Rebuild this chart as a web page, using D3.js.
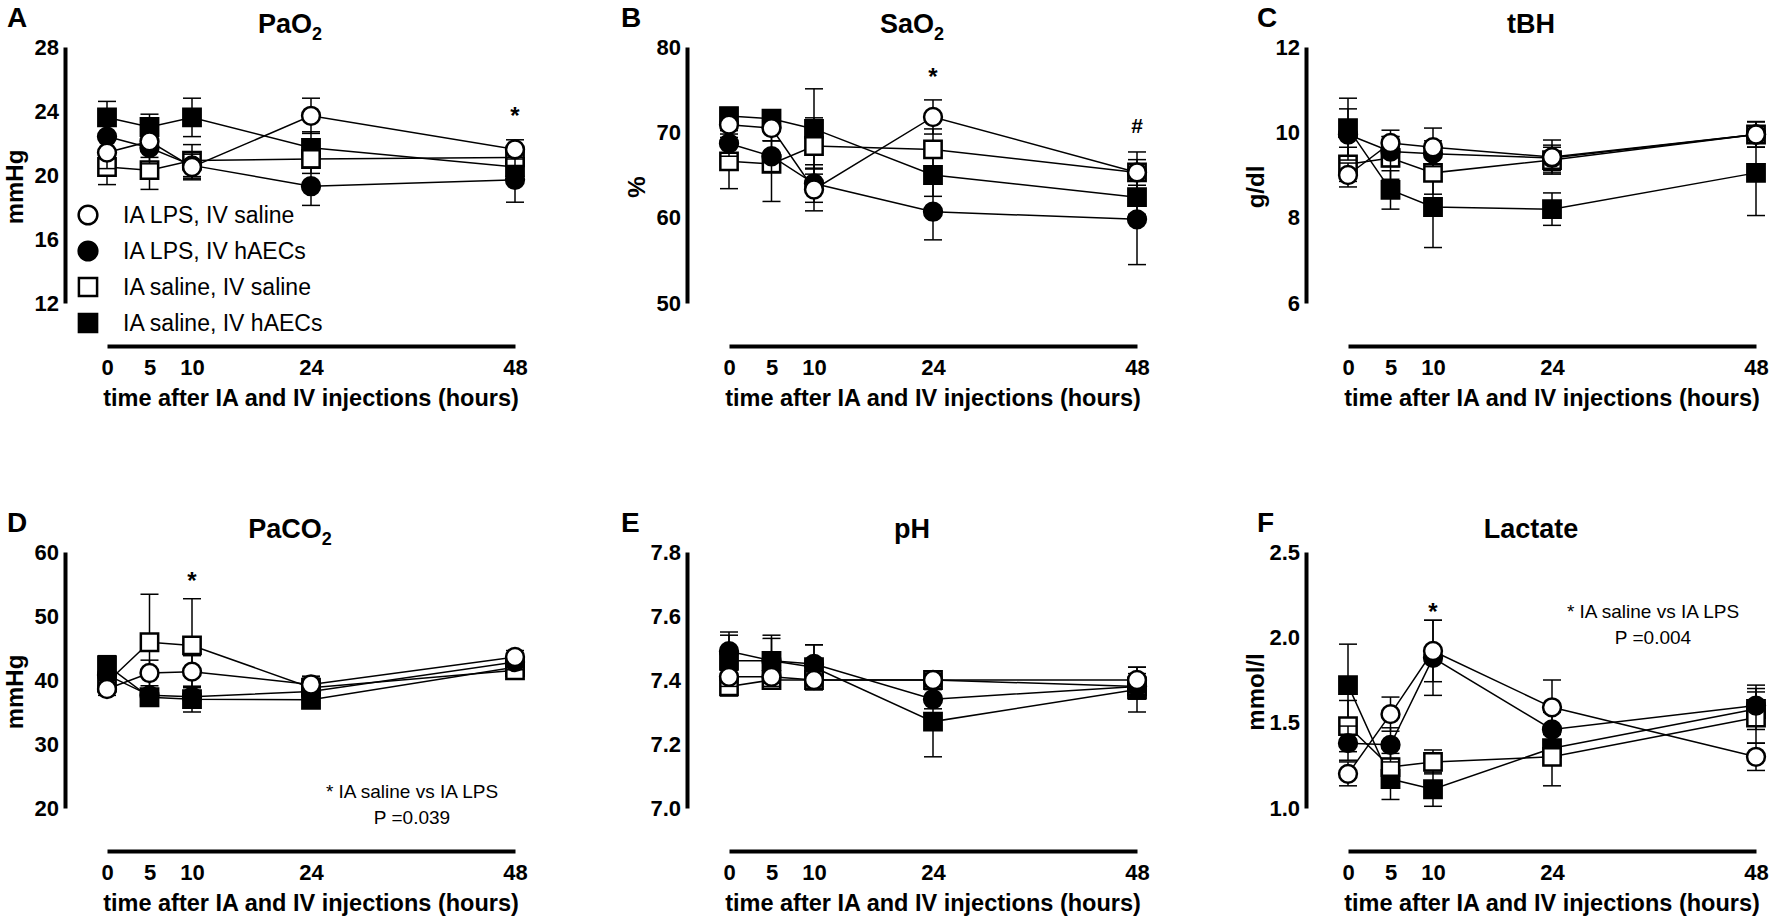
<!DOCTYPE html>
<html>
<head>
<meta charset="utf-8">
<script src="https://cdn.jsdelivr.net/npm/d3@7"></script>
<style>
body { margin: 0; background: #fff; }
svg { display: block; font-family: "Liberation Sans", Arial, Helvetica, sans-serif; }
</style>
</head>
<body>
<div id="chart"></div>
<script>
// time points (hours) and groups
const hours = [0, 5, 10, 24, 48]
const groups = ["IA LPS, IV saline", "IA LPS, IV hAECs", "IA saline, IV saline", "IA saline, IV hAECs"]

// one row per group, values at 0, 5, 10, 24, 48 h
const pao2Mean = [[21.4, 22.1, 20.5, 23.7, 21.6], [22.4, 21.7, 20.6, 19.3, 19.7], [20.5, 20.3, 20.9, 21.0, 21.1], [23.6, 23.0, 23.6, 21.7, 20.5]]
const pao2Sem = [[1.0, 1.0, 0.8, 1.1, 0.6], [0.9, 1.0, 0.8, 1.2, 1.4], [1.1, 1.2, 1.0, 0.9, 0.7], [1.0, 0.8, 1.2, 1.0, 0.9]]
const pao2Ticks = [12, 16, 20, 24, 28]

const sao2Mean = [[70.9, 70.5, 63.3, 71.8, 65.3], [68.7, 67.2, 64.0, 60.7, 59.8], [66.6, 66.3, 68.4, 68.0, 65.3], [71.9, 71.6, 70.4, 65.0, 62.4]]
const sao2Sem = [[1.5, 1.5, 2.5, 2.0, 2.4], [1.5, 1.8, 2.2, 3.3, 5.3], [3.2, 4.4, 3.3, 2.4, 1.5], [1.0, 1.0, 4.7, 2.5, 2.0]]
const sao2Ticks = [50, 60, 70, 80]

const tbhMean = [[9.0, 9.75, 9.65, 9.42, 9.95], [9.95, 9.55, 9.5, 9.4, 9.95], [9.25, 9.4, 9.05, 9.35, 9.95], [10.1, 8.65, 8.25, 8.2, 9.05]]
const tbhSem = [[0.28, 0.3, 0.45, 0.4, 0.3], [0.6, 0.35, 0.3, 0.3, 0.3], [0.4, 0.5, 0.5, 0.3, 0.3], [0.7, 0.45, 0.95, 0.38, 1.0]]
const tbhTicks = [6, 8, 10, 12]

const paco2Mean = [[38.6, 41.1, 41.3, 39.3, 43.6], [40.8, 37.6, 37.4, 38.2, 42.8], [39.6, 45.9, 45.4, 38.8, 41.5], [42.3, 37.3, 37.0, 36.9, 42.0]]
const paco2Sem = [[1.0, 2.0, 2.5, 1.2, 1.0], [1.5, 1.0, 1.6, 1.5, 1.2], [1.2, 7.5, 7.3, 1.8, 1.0], [1.5, 1.0, 2.0, 1.2, 0.8]]
const paco2Ticks = [20, 30, 40, 50, 60]

const phMean = [[7.41, 7.41, 7.40, 7.40, 7.40], [7.49, 7.46, 7.45, 7.34, 7.38], [7.38, 7.40, 7.40, 7.40, 7.38], [7.46, 7.46, 7.44, 7.27, 7.37]]
const phSem = [[0.03, 0.03, 0.03, 0.02, 0.04], [0.06, 0.07, 0.06, 0.03, 0.04], [0.03, 0.02, 0.03, 0.02, 0.03], [0.08, 0.08, 0.07, 0.11, 0.07]]
const phTicks = [7.0, 7.2, 7.4, 7.6, 7.8]

const lactateMean = [[1.20, 1.55, 1.92, 1.59, 1.30], [1.38, 1.37, 1.88, 1.46, 1.60], [1.48, 1.24, 1.27, 1.30, 1.53], [1.72, 1.17, 1.11, 1.35, 1.58]]
const lactateSem = [[0.07, 0.10, 0.18, 0.16, 0.08], [0.10, 0.10, 0.22, 0.10, 0.12], [0.15, 0.08, 0.07, 0.17, 0.15], [0.24, 0.12, 0.10, 0.10, 0.12]]
const lactateTicks = [1.0, 1.5, 2.0, 2.5]

// significance marks: panel, hour, value at mark centre
const marks = [
  { panel: "A", h: 48, v: 24.0, s: "*" },
  { panel: "B", h: 24, v: 77.1, s: "*" },
  { panel: "B", h: 48, v: 70.8, s: "#" },
  { panel: "D", h: 10, v: 56.3, s: "*" },
  { panel: "F", h: 10, v: 2.18, s: "*" }
]
const noteD = ["* IA saline vs IA LPS", "P =0.039"]
const noteF = ["* IA saline vs IA LPS", "P =0.004"]

const panels = [
  { letter: "A", title: "PaO", sub: "2", unit: "mmHg", mean: pao2Mean, sem: pao2Sem, ticks: pao2Ticks, fmt: d3.format("d") },
  { letter: "B", title: "SaO", sub: "2", unit: "%", mean: sao2Mean, sem: sao2Sem, ticks: sao2Ticks, fmt: d3.format("d") },
  { letter: "C", title: "tBH", sub: "", unit: "g/dl", mean: tbhMean, sem: tbhSem, ticks: tbhTicks, fmt: d3.format("d") },
  { letter: "D", title: "PaCO", sub: "2", unit: "mmHg", mean: paco2Mean, sem: paco2Sem, ticks: paco2Ticks, fmt: d3.format("d"), note: noteD, noteY: 246 },
  { letter: "E", title: "pH", sub: "", unit: "", mean: phMean, sem: phSem, ticks: phTicks, fmt: d3.format(".1f") },
  { letter: "F", title: "Lactate", sub: "", unit: "mmol/l", mean: lactateMean, sem: lactateSem, ticks: lactateTicks, fmt: d3.format(".1f"), note: noteF, noteY: 66 }
]

// styles
const symbols = [d3.symbolCircle, d3.symbolCircle, d3.symbolSquare, d3.symbolSquare]
const symbolSize = [250, 250, 300, 300]
const fills = ["#fff", "#000", "#fff", "#000"]
const drawOrder = [3, 2, 1, 0]

const W = 1772, H = 921
const colX = [65, 687, 1306]
const letterX = [7, 621, 1257]
const rowY = [47, 552]
const gap = 42, plotW = 408, plotH = 256

const svg = d3.select("#chart").append("svg")
  .attr("width", W)
  .attr("height", H)

panels.forEach(function(p, i) {
  const col = i % 3
  const ax = colX[col]
  const top = rowY[Math.floor(i / 3)]

  const x = d3.scaleLinear().domain([0, 48]).range([ax + gap, ax + gap + plotW])
  const y = d3.scaleLinear().domain(d3.extent(p.ticks)).range([top + plotH, top])

  const g = svg.append("g")

  g.append("text")
    .attr("x", letterX[col])
    .attr("y", top - 20)
    .attr("font-size", 28)
    .attr("font-weight", "bold")
    .text(p.letter)

  const title = g.append("text")
    .attr("x", ax + (gap + plotW) / 2)
    .attr("y", top - 14)
    .attr("text-anchor", "middle")
    .attr("font-size", 27)
    .attr("font-weight", "bold")
  title.append("tspan").text(p.title)
  if (p.sub) title.append("tspan").attr("font-size", 18).attr("dy", 7).text(p.sub)

  // y axis
  const ya = g.append("g")
    .attr("transform", "translate(" + ax + ",0)")
    .call(d3.axisLeft(y).tickValues(p.ticks).tickSize(0).tickSizeOuter(0).tickPadding(6).tickFormat(p.fmt))
  ya.attr("font-family", null)
  ya.select(".domain").attr("stroke", "#000").attr("stroke-width", 4)
  ya.selectAll("text")
    .attr("font-size", 22)
    .attr("font-weight", "bold")
    .attr("fill", "#000")

  if (p.unit) {
    g.append("text")
      .attr("transform", "translate(" + (ax - 42) + "," + (top + 140) + ") rotate(-90)")
      .attr("text-anchor", "middle")
      .attr("font-size", 24)
      .attr("font-weight", "bold")
      .text(p.unit)
  }

  // x axis
  const xa = g.append("g")
    .attr("transform", "translate(0," + (top + 299) + ")")
    .call(d3.axisBottom(x).tickValues(hours).tickSize(0).tickSizeOuter(0).tickPadding(13).tickFormat(d3.format("d")))
  xa.attr("font-family", null)
  xa.select(".domain").attr("stroke", "#000").attr("stroke-width", 4)
  xa.selectAll("text")
    .attr("font-size", 22)
    .attr("font-weight", "bold")
    .attr("fill", "#000")

  g.append("text")
    .attr("x", ax + gap + plotW / 2)
    .attr("y", top + 359)
    .attr("text-anchor", "middle")
    .attr("font-size", 23.5)
    .attr("font-weight", "bold")
    .text("time after IA and IV injections (hours)")

  const line = d3.line()
    .x((d, j) => x(hours[j]))
    .y(d => y(d))

  drawOrder.forEach(function(k) {
    const gg = g.append("g")
    gg.append("path")
      .attr("d", line(p.mean[k]))
      .attr("fill", "none")
      .attr("stroke", "#000")
      .attr("stroke-width", 1.5)

    const bars = gg.selectAll(".eb")
      .data(p.mean[k].map((m, j) => ({ h: hours[j], m: m, s: p.sem[k][j] })))
      .join("g")
    bars.append("line")
      .attr("x1", d => x(d.h)).attr("x2", d => x(d.h))
      .attr("y1", d => y(d.m - d.s)).attr("y2", d => y(d.m + d.s))
      .attr("stroke", "#000").attr("stroke-width", 1.5)
    bars.selectAll(".cap")
      .data(d => [{ h: d.h, v: d.m - d.s }, { h: d.h, v: d.m + d.s }])
      .join("line")
      .attr("x1", d => x(d.h) - 9).attr("x2", d => x(d.h) + 9)
      .attr("y1", d => y(d.v)).attr("y2", d => y(d.v))
      .attr("stroke", "#000").attr("stroke-width", 1.5)

    gg.selectAll(".pt")
      .data(p.mean[k])
      .join("path")
      .attr("transform", (d, j) => "translate(" + x(hours[j]) + "," + y(d) + ")")
      .attr("d", d3.symbol().type(symbols[k]).size(symbolSize[k]))
      .attr("fill", fills[k])
      .attr("stroke", "#000")
      .attr("stroke-width", 2.5)
  })

  marks.filter(m => m.panel === p.letter).forEach(function(m) {
    g.append("text")
      .attr("x", x(m.h))
      .attr("y", y(m.v) + (m.s === "*" ? 13 : 7))
      .attr("text-anchor", "middle")
      .attr("font-size", m.s === "*" ? 24 : 21)
      .attr("font-weight", "bold")
      .text(m.s)
  })

  if (p.note) {
    p.note.forEach(function(t, j) {
      g.append("text")
        .attr("x", ax + gap + 305)
        .attr("y", top + p.noteY + j * 26)
        .attr("text-anchor", "middle")
        .attr("font-size", 19)
        .text(t)
    })
  }

  // legend in panel A
  if (i === 0) {
    const lg = g.selectAll(".lg")
      .data(groups)
      .join("g")
      .attr("transform", (d, k) => "translate(88," + (215 + k * 36) + ")")
    lg.append("path")
      .attr("d", (d, k) => d3.symbol().type(symbols[k]).size(symbolSize[k] * 1.1)())
      .attr("fill", (d, k) => fills[k])
      .attr("stroke", "#000")
      .attr("stroke-width", 2.5)
    lg.append("text")
      .attr("x", 35)
      .attr("y", 8)
      .attr("font-size", 23)
      .text(d => d)
  }
})
</script>
</body>
</html>
